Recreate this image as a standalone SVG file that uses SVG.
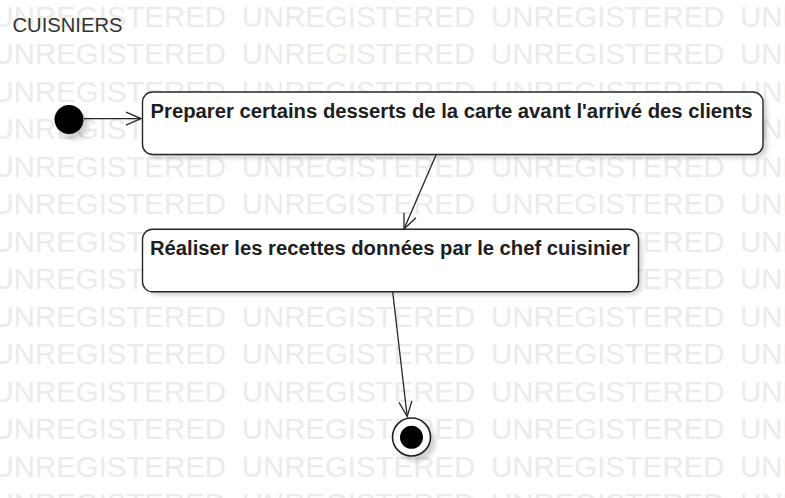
<svg xmlns="http://www.w3.org/2000/svg" xmlns:xlink="http://www.w3.org/1999/xlink" width="785" height="498" viewBox="0 0 785 498">
  <style>
    .wm { font-family: "Liberation Sans", Arial, sans-serif; font-size: 29.4px; fill: #ebebeb; }
    .title { font-family: "Liberation Sans", Arial, sans-serif; font-size: 20px; fill: #333333; }
    .label { font-family: "Liberation Sans", Arial, sans-serif; font-size: 20px; font-weight: bold; fill: #1e1e1e; }
    .box { fill: #ffffff; stroke: #262626; stroke-width: 1.4; }
    .shadow { fill: #000000; opacity: 0.18; filter: url(#blur); }
    .edge { fill: none; stroke: #262626; stroke-width: 1.3; marker-end: url(#open); }
  </style>
  <defs>
    <filter id="blur" x="-20%" y="-20%" width="140%" height="160%">
      <feGaussianBlur stdDeviation="2.5"/>
    </filter>
    <marker id="open" markerUnits="userSpaceOnUse" viewBox="-17 -9 19 18" markerWidth="19" markerHeight="18" refX="0" refY="0" orient="auto" overflow="visible">
      <path d="M -15 -6.5 L 0 0 L -15 6.5" fill="none" stroke="#262626" stroke-width="1.3"/>
    </marker>
    <text id="wmrow" class="wm"><tspan x="-7.5">UNREGISTERED</tspan><tspan x="241.7">UNREGISTERED</tspan><tspan x="491">UNREGISTERED</tspan><tspan x="740">UNREGISTERED</tspan></text>
  </defs>
  <rect x="0" y="0" width="785" height="498" fill="#ffffff"/>
  <g id="watermark">
    <use xlink:href="#wmrow" y="26.7"/>
    <use xlink:href="#wmrow" y="64.2"/>
    <use xlink:href="#wmrow" y="101.7"/>
    <use xlink:href="#wmrow" y="139.2"/>
    <use xlink:href="#wmrow" y="176.7"/>
    <use xlink:href="#wmrow" y="214.2"/>
    <use xlink:href="#wmrow" y="251.7"/>
    <use xlink:href="#wmrow" y="289.2"/>
    <use xlink:href="#wmrow" y="326.7"/>
    <use xlink:href="#wmrow" y="364.2"/>
    <use xlink:href="#wmrow" y="401.7"/>
    <use xlink:href="#wmrow" y="439.2"/>
    <use xlink:href="#wmrow" y="476.7"/>
    <use xlink:href="#wmrow" y="514.2"/>
  </g>
  <g id="lane">
    <text class="title" x="12.5" y="31.5" textLength="110" lengthAdjust="spacingAndGlyphs">CUISNIERS</text>
  </g>
  <g id="initial">
    <circle class="shadow" cx="74" cy="125" r="14.5"/>
    <circle cx="69" cy="119.5" r="14.5" fill="#000000"/>
  </g>
  <g id="node1">
    <rect class="shadow" x="146" y="96" width="621" height="62" rx="10"/>
    <rect class="box" x="142.5" y="92" width="620.5" height="62.5" rx="10"/>
    <text class="label" x="150.5" y="118" textLength="602" lengthAdjust="spacingAndGlyphs">Preparer certains desserts de la carte avant l'arrivé des clients</text>
  </g>
  <g id="node2">
    <rect class="shadow" x="146" y="233" width="496" height="62" rx="10"/>
    <rect class="box" x="142.5" y="229.3" width="496" height="62.5" rx="10"/>
    <text class="label" x="150" y="255" textLength="480" lengthAdjust="spacingAndGlyphs">Réaliser les recettes données par le chef cuisinier</text>
  </g>
  <g id="final">
    <circle class="shadow" cx="416" cy="442" r="19.5"/>
    <circle cx="411.5" cy="437" r="19" fill="#ffffff" stroke="#1e1e1e" stroke-width="1.6"/>
    <circle cx="411.5" cy="437.3" r="11.5" fill="#000000"/>
  </g>
  <g id="connectors">
    <line class="edge" x1="84" y1="118.6" x2="141" y2="118.6"/>
    <line class="edge" x1="436" y1="155" x2="404" y2="229"/>
    <line class="edge" x1="392.7" y1="292" x2="407.2" y2="416.5"/>
  </g>
</svg>
